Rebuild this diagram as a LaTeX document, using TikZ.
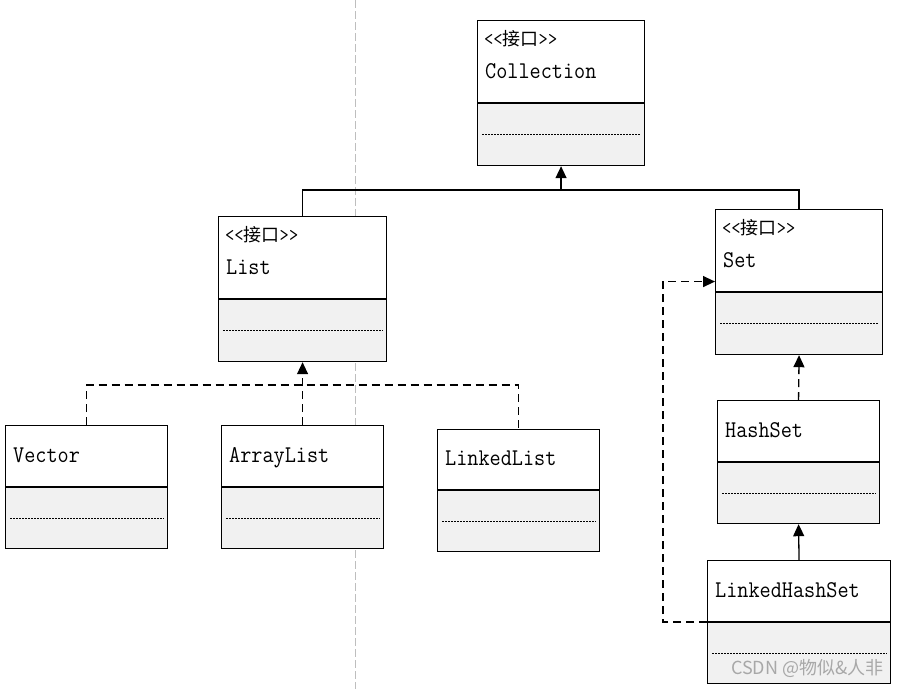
\documentclass[tikz,border=0pt]{standalone}
\usepackage{fontspec}
\setmonofont[FakeStretch=0.9]{Latin Modern Mono}
\newfontfamily\cjk{Noto Sans CJK SC}
\usetikzlibrary{arrows.meta,positioning}
\definecolor{compgray}{RGB}{241,241,241}
\definecolor{guidegray}{RGB}{190,190,190}
\definecolor{markgray}{RGB}{168,168,168}

\begin{document}
\begin{tikzpicture}[x=1pt,y=-1pt,
    part/.style={draw, line width=1.1pt, inner sep=0pt},
    toppart/.style={part, fill=white, anchor=north west},
    botpart/.style={part, fill=compgray},
    dots/.style={line width=1pt, dash pattern=on 2pt off 1pt},
    cname/.style={anchor=base west, inner sep=0pt, font=\ttfamily\fontsize{24}{24}\selectfont},
    stereo/.style={anchor=base west, inner sep=0pt, font=\ttfamily\fontsize{20}{20}\selectfont},
    conn/.style={line width=1.3pt},
    tri/.style={-{Triangle[length=12pt,width=11pt]}},
    realize/.style={tri, dash pattern=on 8pt off 5pt}]
  \useasboundingbox (0,0) rectangle (901,689);
  % guide line
  \draw[guidegray, line width=1pt, dash pattern=on 8pt off 3pt] (355,0) -- (355,689);
  \def\iface{<<{\cjk\fontsize{18}{18}\selectfont 接口}>>}
  % interfaces
  \node[toppart, minimum width=167pt, minimum height=82pt] (coll-top) at (477,20) {};
  \node[botpart, minimum width=167pt, minimum height=62pt, below=0pt of coll-top] (coll-bot) {};
  \node[stereo] (coll-st) at ([xshift=7pt,yshift=-25pt]coll-top.north west) {\iface};
  \node[cname] (coll-nm) at ([xshift=8pt,yshift=-58pt]coll-top.north west) {Collection};
  \node[toppart, minimum width=168pt, minimum height=82pt] (list-top) at (218,216) {};
  \node[botpart, minimum width=168pt, minimum height=62pt, below=0pt of list-top] (list-bot) {};
  \node[stereo] (list-st) at ([xshift=7pt,yshift=-25pt]list-top.north west) {\iface};
  \node[cname] (list-nm) at ([xshift=8pt,yshift=-58pt]list-top.north west) {List};
  \node[toppart, minimum width=167pt, minimum height=82pt] (set-top) at (715,209) {};
  \node[botpart, minimum width=167pt, minimum height=62pt, below=0pt of set-top] (set-bot) {};
  \node[stereo] (set-st) at ([xshift=7pt,yshift=-25pt]set-top.north west) {\iface};
  \node[cname] (set-nm) at ([xshift=8pt,yshift=-58pt]set-top.north west) {Set};
  % classes
  \node[toppart, minimum width=162pt, minimum height=61pt] (vec-top) at (5,425) {};
  \node[botpart, minimum width=162pt, minimum height=61pt, below=0pt of vec-top] (vec-bot) {};
  \node[cname] (vec-nm) at ([xshift=8pt,yshift=-37pt]vec-top.north west) {Vector};
  \node[toppart, minimum width=162pt, minimum height=61pt] (arr-top) at (221,425) {};
  \node[botpart, minimum width=162pt, minimum height=61pt, below=0pt of arr-top] (arr-bot) {};
  \node[cname] (arr-nm) at ([xshift=8pt,yshift=-37pt]arr-top.north west) {ArrayList};
  \node[toppart, minimum width=162pt, minimum height=60pt] (llist-top) at (437,429) {};
  \node[botpart, minimum width=162pt, minimum height=61pt, below=0pt of llist-top] (llist-bot) {};
  \node[cname] (llist-nm) at ([xshift=8pt,yshift=-36pt]llist-top.north west) {LinkedList};
  \node[toppart, minimum width=162pt, minimum height=61pt] (hset-top) at (717,400) {};
  \node[botpart, minimum width=162pt, minimum height=61pt, below=0pt of hset-top] (hset-bot) {};
  \node[cname] (hset-nm) at ([xshift=8pt,yshift=-37pt]hset-top.north west) {HashSet};
  \node[toppart, minimum width=183pt, minimum height=61pt] (lhset-top) at (707,560) {};
  \node[botpart, minimum width=183pt, minimum height=61pt, below=0pt of lhset-top] (lhset-bot) {};
  \node[cname] (lhset-nm) at ([xshift=8pt,yshift=-37pt]lhset-top.north west) {LinkedHashSet};
  % dotted rules in the lower compartments
  \foreach \c in {coll,list,set,vec,arr,llist,hset,lhset}
    \draw[dots] ([xshift=5pt]\c-bot.west) -- ([xshift=-5pt]\c-bot.east);
  % generalisation
  \coordinate (coll-j) at (coll-bot.south |- 0,190);
  \draw[conn] (list-top.north) |- (coll-j);
  \draw[conn] (set-top.north) |- (coll-j);
  \draw[conn,tri] (coll-j) -- (coll-bot.south);
  \draw[conn,tri] (lhset-top.north) -- (hset-bot.south);
  % realization
  \coordinate (list-j) at (list-bot.south |- 0,385);
  \draw[conn, dash pattern=on 8pt off 5pt] (vec-top.north) |- (list-j) -| (llist-top.north);
  \draw[conn,realize] (arr-top.north) -- (list-bot.south);
  \draw[conn,realize] (hset-top.north) -- (set-bot.south);
  \draw[conn,realize] (lhset-top.south west) -- ++(-44,0) |- ([yshift=-31pt]set-top.west);
  % watermark
  \node[font=\cjk\fontsize{18}{18}\selectfont, text=markgray, anchor=east] (mark) at (887,668) {CSDN @物似\&人非};
\end{tikzpicture}
\end{document}
